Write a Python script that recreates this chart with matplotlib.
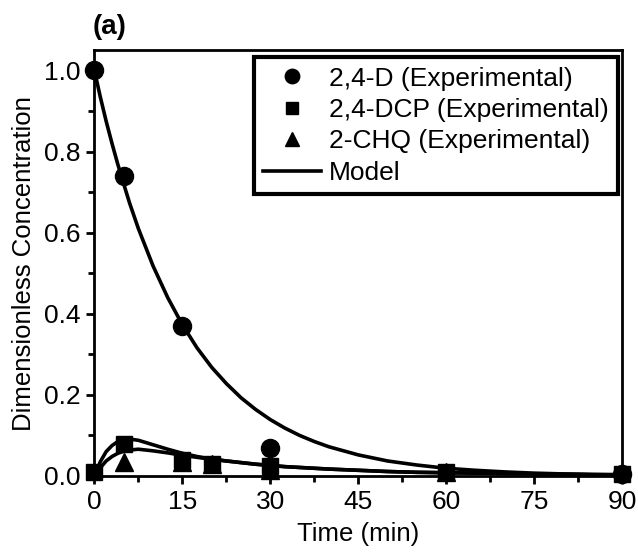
import matplotlib
matplotlib.use('Agg')
import matplotlib.pyplot as plt
from matplotlib.ticker import MultipleLocator

plt.rcParams['font.family'] = ['Liberation Sans', 'DejaVu Sans']

# Experimental points
t_d = [0, 5, 15, 30, 90]
c_d = [1.0, 0.74, 0.37, 0.07, 0.005]
t_dcp = [0, 5, 15, 20, 30, 60, 90]
c_dcp = [0.01, 0.08, 0.04, 0.03, 0.025, 0.01, 0.005]
t_chq = [5, 15, 20, 30, 60]
c_chq = [0.035, 0.035, 0.03, 0.015, 0.01]

# Model curves
t_model = [0, 1, 2, 3, 4, 5, 6, 7.5, 10, 12.5, 15, 17.5, 20, 22.5, 25, 27.5, 30, 32.5, 35, 37.5, 40,
           45, 50, 55, 60, 65, 70, 75, 80, 85, 90]
m_d = [1.0, 0.935, 0.875, 0.82, 0.768, 0.72, 0.673, 0.61, 0.518, 0.44, 0.373, 0.316, 0.268, 0.228,
       0.193, 0.164, 0.139, 0.118, 0.1, 0.085, 0.072, 0.052, 0.037, 0.027, 0.019, 0.014, 0.01,
       0.007, 0.005, 0.004, 0.003]
m_dcp = [0.0, 0.035, 0.06, 0.075, 0.085, 0.09, 0.091, 0.088, 0.077, 0.066, 0.056, 0.048, 0.042, 0.037,
         0.033, 0.029, 0.026, 0.023, 0.021, 0.019, 0.017, 0.014, 0.011, 0.009, 0.008, 0.007, 0.006,
         0.005, 0.004, 0.003, 0.003]
m_chq = [0.0, 0.02, 0.037, 0.048, 0.056, 0.061, 0.064, 0.066, 0.062, 0.057, 0.051, 0.046, 0.041, 0.037,
         0.033, 0.029, 0.026, 0.023, 0.021, 0.019, 0.017, 0.014, 0.011, 0.009, 0.008, 0.007, 0.006,
         0.005, 0.004, 0.003, 0.003]

fig = plt.figure(figsize=(6.38, 5.58), dpi=100)
ax = fig.add_axes([0.148, 0.147, 0.827, 0.763])

ax.plot(t_model, m_d, color='black', lw=2.6, label='Model', zorder=2)
ax.plot(t_model, m_dcp, color='black', lw=2.6, zorder=2)
ax.plot(t_model, m_chq, color='black', lw=2.6, zorder=2)
ax.plot(t_d, c_d, 'o', color='black', ms=13, clip_on=False, label='2,4-D (Experimental)', zorder=3)
ax.plot(t_dcp, c_dcp, 's', color='black', ms=11.5, clip_on=False, label='2,4-DCP (Experimental)', zorder=3)
ax.plot(t_chq, c_chq, '^', color='black', ms=13, clip_on=False, label='2-CHQ (Experimental)', zorder=3)

ax.set_xlim(0, 90)
ax.set_ylim(0, 1.05)
ax.xaxis.set_major_locator(MultipleLocator(15))
ax.xaxis.set_minor_locator(MultipleLocator(7.5))
ax.yaxis.set_major_locator(MultipleLocator(0.2))
ax.yaxis.set_minor_locator(MultipleLocator(0.1))
ax.yaxis.set_major_formatter(plt.FuncFormatter(lambda v, p: f'{v:.1f}'))
ax.tick_params(which='major', direction='out', length=6, width=2, labelsize=19, pad=4)
ax.tick_params(which='minor', direction='out', length=4, width=2)
for s in ax.spines.values():
    s.set_linewidth(2)

ax.set_xlabel('Time (min)', fontsize=18.5, labelpad=6)
ax.set_ylabel('Dimensionless Concentration', fontsize=18.5, labelpad=6)
fig.text(0.145, 0.952, '(a)', fontsize=20, fontweight='bold', ha='left', va='center')

handles, labels = ax.get_legend_handles_labels()
order = [1, 2, 3, 0]
leg = ax.legend([handles[i] for i in order], [labels[i] for i in order], loc='upper right',
                fontsize=19, frameon=True, fancybox=False, edgecolor='black', framealpha=1,
                handlelength=2.2, handletextpad=0.3, borderpad=0.35, labelspacing=0.28,
                bbox_to_anchor=(0.992, 0.983), markerscale=0.8, borderaxespad=0)
leg.get_frame().set_linewidth(3)

fig.savefig('out.png', dpi=100)
